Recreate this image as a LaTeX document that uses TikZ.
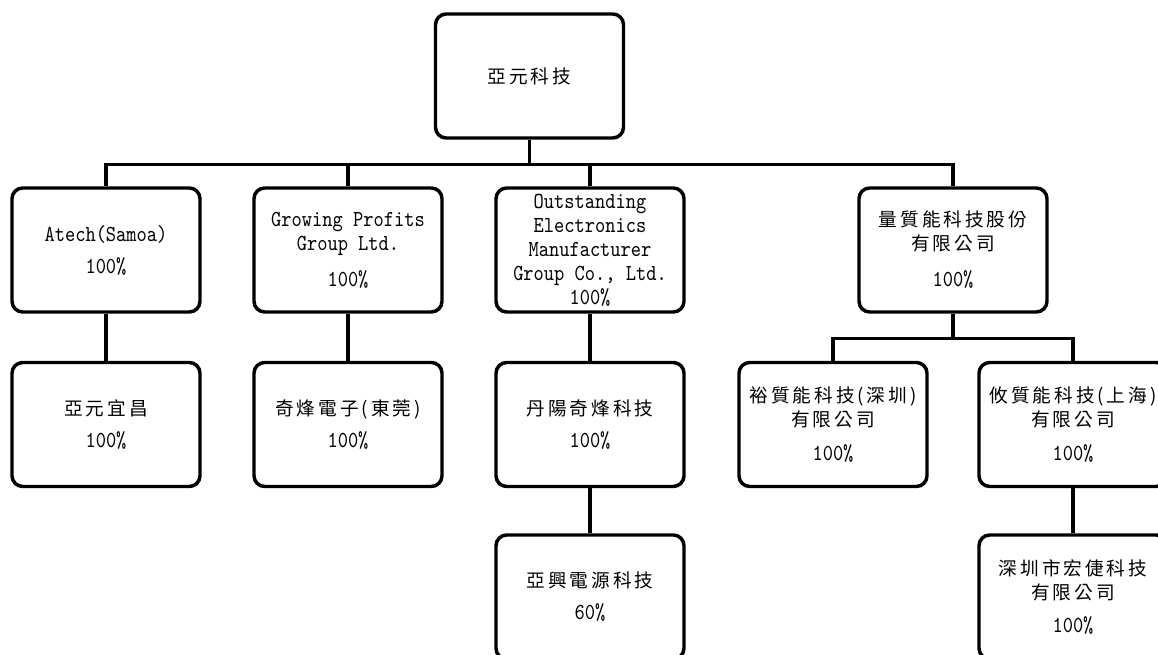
\documentclass[tikz,border=0pt]{standalone}
\usepackage{fontspec}
\newfontfamily\cjk[LetterSpace=16]{Noto Sans CJK TC}
\newfontfamily\lmtt[Extension=.otf, FakeStretch=0.85]{lmmono10-regular}
\newcommand\zh[1]{{\cjk\fontsize{14}{18}\selectfont #1}}

\begin{document}
\begin{tikzpicture}[x=0.75pt, y=-0.75pt,
        unit/.style={draw, line width=2.6pt, rounded corners=8pt, minimum width=141pt, minimum height=93pt,
            inner sep=0pt, align=center, font=\fontsize{17.2}{18}\selectfont\lmtt},
        link/.style={line width=2.4pt}]
    \useasboundingbox (0,0) rectangle (1158,655);
    \clip (0,0) rectangle (1158,655);

    \node[unit] (parent) at (529.5,76) {\zh{亞元科技}};

    % first level
    \node[unit] (sub-1) at (106,250) {Atech(Samoa)\\[6pt]100\%};
    \node[unit] (sub-2) at (348,250) {Growing Profits\\Group Ltd.\\[9pt]100\%};
    \node[unit] (sub-3) at (590,250) {Outstanding\\Electronics\\Manufacturer\\Group Co., Ltd.\\100\%};
    \node[unit] (sub-4) at (953,250) {\zh{量質能科技股份}\\\zh{有限公司}\\[9pt]100\%};

    % second level
    \node[unit] (subsub-1) at (106,424.5) {\zh{亞元宜昌}\\[6pt]100\%};
    \node[unit] (subsub-2) at (348,424.5) {\zh{奇烽電子(東莞)}\\[6pt]100\%};
    \node[unit] (subsub-3) at (590,424.5) {\zh{丹陽奇烽科技}\\[6pt]100\%};
    \node[unit] (subsub-4) at (833,424.5) {\zh{裕質能科技(深圳)}\\\zh{有限公司}\\[7pt]100\%};
    \node[unit] (subsub-5) at (1073,424.5) {\zh{攸質能科技(上海)}\\\zh{有限公司}\\[7pt]100\%};

    % third level
    \node[unit] (leaf-3) at (590,597) {\zh{亞興電源科技}\\[6pt]60\%};
    \node[unit] (leaf-5) at (1073,597) {\zh{深圳市宏倢科技}\\\zh{有限公司}\\[7pt]100\%};

    \foreach \c in {sub-1,sub-2,sub-3,sub-4}
    {
        \draw[link] (parent.south) -- ++(0,25) -| (\c.north);
    }
    \foreach \c in {subsub-4,subsub-5}
    {
        \draw[link] (sub-4.south) -- ++(0,25) -| (\c.north);
    }
    \foreach \a/\b in {sub-1/subsub-1,sub-2/subsub-2,sub-3/subsub-3,subsub-3/leaf-3,subsub-5/leaf-5}
    {
        \draw[link] (\a.south) -- (\b.north);
    }
\end{tikzpicture}
\end{document}
